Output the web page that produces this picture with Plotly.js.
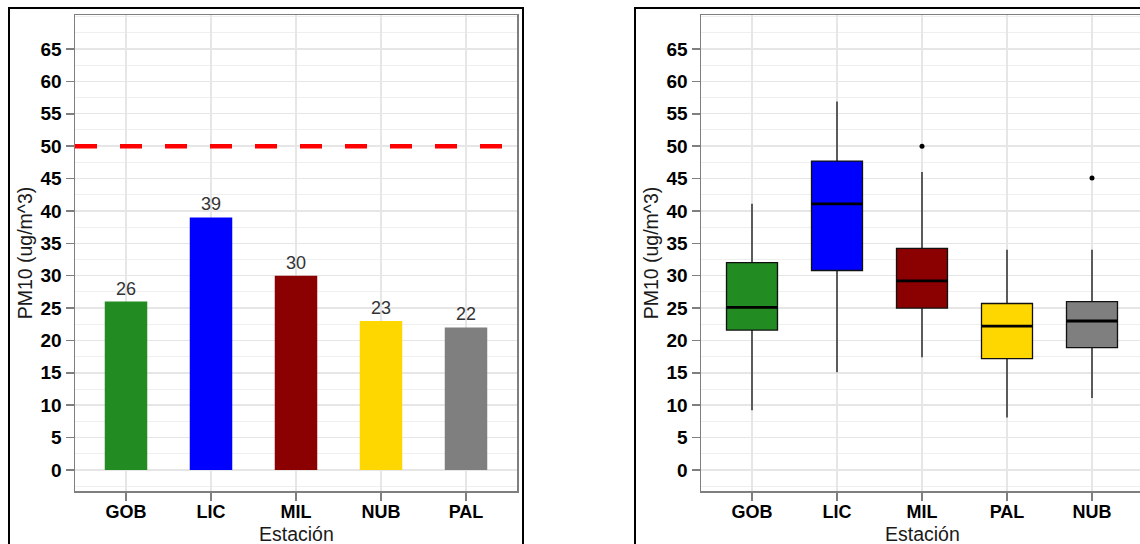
<!DOCTYPE html>
<html>
<head>
<meta charset="utf-8">
<script src="https://cdn.plot.ly/plotly-3.0.1.min.js"></script>
<style>html,body{margin:0;padding:0;background:#fff;}#chart{width:1140px;height:544px;}</style>
</head>
<body>
<div id="chart"></div>
<script>
// ---- data ----
const barCats = ['GOB', 'LIC', 'MIL', 'NUB', 'PAL'];
const barVals = [26, 39, 30, 23, 22];
const barColors = ['#228B22', '#0000FF', '#8B0000', '#FFD700', '#7F7F7F'];
const limitValue = 50;

const boxCats = ['GOB', 'LIC', 'MIL', 'PAL', 'NUB'];
const boxQ1 = [21.6, 30.8, 25.0, 17.2, 18.9];
const boxMedian = [25.1, 41.1, 29.2, 22.2, 23.0];
const boxQ3 = [32.0, 47.7, 34.2, 25.7, 26.0];
const boxLow = [9.2, 15.1, 17.4, 8.1, 11.1];
const boxHigh = [41.1, 56.9, 46.0, 34.0, 34.0];
const boxColors = ['#228B22', '#0000FF', '#8B0000', '#FFD700', '#7F7F7F'];
const outlierCats = ['MIL', 'NUB'];
const outlierVals = [50, 45.1];

const yTickVals = [0, 5, 10, 15, 20, 25, 30, 35, 40, 45, 50, 55, 60, 65];
const xTitle = 'Estación';
const yTitle = 'PM10 (ug/m^3)';

// ---- layout helpers ----
const W = 1140, H = 544;
const FONT = 'Liberation Sans, Arial, sans-serif';
const px = v => v / W;
const py = v => 1 - v / H;

const tickFont = {family: FONT, size: 19, color: '#000', weight: 'bold'};
const titleFont = {family: FONT, size: 19.5, color: '#1a1a1a'};

function yAxis(domainRight) {
  return {
    domain: [py(491), py(15)],
    range: [-3.25, 70.25],
    tickmode: 'array',
    tickvals: yTickVals,
    ticks: 'outside', ticklen: 8, tickwidth: 1.5, tickcolor: '#7f7f7f',
    tickfont: tickFont,
    showline: true, linecolor: '#7f7f7f', linewidth: 1.5, mirror: domainRight,
    showgrid: true, gridcolor: '#e6e6e6', gridwidth: 1.4,
    minor: {dtick: 2.5, tick0: 0, showgrid: true, gridcolor: '#efefef', gridwidth: 1, ticks: ''},
    zeroline: false,
    title: {text: yTitle, font: titleFont, standoff: 2},
    fixedrange: true
  };
}
function xAxis(domain, range, cats) {
  return {
    domain: domain,
    type: 'category',
    categoryorder: 'array', categoryarray: cats,
    range: range,
    ticks: 'outside', ticklen: 8, tickwidth: 1.5, tickcolor: '#7f7f7f',
    tickfont: {family: FONT, size: 18, color: '#000', weight: 'bold'},
    ticklabelstandoff: -4,
    showline: true, linecolor: '#7f7f7f', linewidth: 1.5, mirror: true,
    showgrid: true, gridcolor: '#e6e6e6', gridwidth: 1.4,
    zeroline: false,
    fixedrange: true
  };
}

const traces = [];
// bar chart
traces.push({
  type: 'bar', x: barCats, y: barVals, xaxis: 'x', yaxis: 'y',
  marker: {color: barColors, line: {width: 0}},
  width: 0.5,
  text: barVals.map(String), textposition: 'outside', cliponaxis: false,
  textfont: {family: FONT, size: 18, color: '#333'},
  hoverinfo: 'x+y', showlegend: false
});
// box plots
boxCats.forEach((c, i) => {
  traces.push({
    type: 'box', xaxis: 'x2', yaxis: 'y2',
    x: [c], q1: [boxQ1[i]], median: [boxMedian[i]], q3: [boxQ3[i]],
    lowerfence: [boxLow[i]], upperfence: [boxHigh[i]],
    fillcolor: boxColors[i], line: {color: '#111', width: 1.3},
    whiskerwidth: 0, width: 0.6, boxpoints: false, showlegend: false
  });
});
traces.push({
  type: 'scatter', mode: 'markers', xaxis: 'x2', yaxis: 'y2',
  x: outlierCats, y: outlierVals,
  marker: {color: '#000', size: 5}, showlegend: false, cliponaxis: false
});

const shapes = [];
// limit line on bar chart
shapes.push({type: 'line', xref: 'x domain', yref: 'y', x0: 0, x1: 1, y0: limitValue, y1: limitValue,
  line: {color: '#FF0000', width: 4.5, dash: '22px,23px'}});
// thick median lines
boxCats.forEach((c, i) => {
  shapes.push({type: 'line', xref: 'x2', yref: 'y2', x0: i - 0.3, x1: i + 0.3,
    y0: boxMedian[i], y1: boxMedian[i], line: {color: '#000', width: 2.8}});
});
// panel frames
shapes.push({type: 'rect', xref: 'paper', yref: 'paper', x0: px(9), x1: px(523), y0: -0.05, y1: py(8),
  line: {color: '#000', width: 2}, layer: 'below'});
shapes.push({type: 'rect', xref: 'paper', yref: 'paper', x0: px(635), x1: 1.05, y0: -0.05, y1: py(8),
  line: {color: '#000', width: 2}, layer: 'below'});

// x-axis titles as annotations centred under each plot area
const annotations = [
  {xref: 'x domain', yref: 'paper', x: 0.5, y: py(534), text: xTitle, showarrow: false,
   xanchor: 'center', yanchor: 'middle', font: titleFont},
  {xref: 'paper', yref: 'paper', x: px((701 + 1143) / 2), y: py(534), text: xTitle, showarrow: false,
   xanchor: 'center', yanchor: 'middle', font: titleFont}
];

const rightRange = [-0.6, -0.6 + (W - 701) / 85];
const layout = {
  width: W, height: H,
  margin: {l: 0, r: 0, t: 0, b: 0},
  paper_bgcolor: '#fff', plot_bgcolor: '#fff',
  showlegend: false,
  font: {family: FONT},
  xaxis: xAxis([px(75), px(517)], [-0.6, 4.6], barCats),
  yaxis: yAxis(true),
  xaxis2: Object.assign(xAxis([px(701), 1], rightRange, boxCats), {anchor: 'y2'}),
  yaxis2: Object.assign(yAxis(false), {anchor: 'x2'}),
  shapes: shapes,
  annotations: annotations
};
layout.xaxis.anchor = 'y';
layout.yaxis.anchor = 'x';

Plotly.newPlot('chart', traces, layout, {displayModeBar: false, staticPlot: true});
</script>
</body>
</html>
